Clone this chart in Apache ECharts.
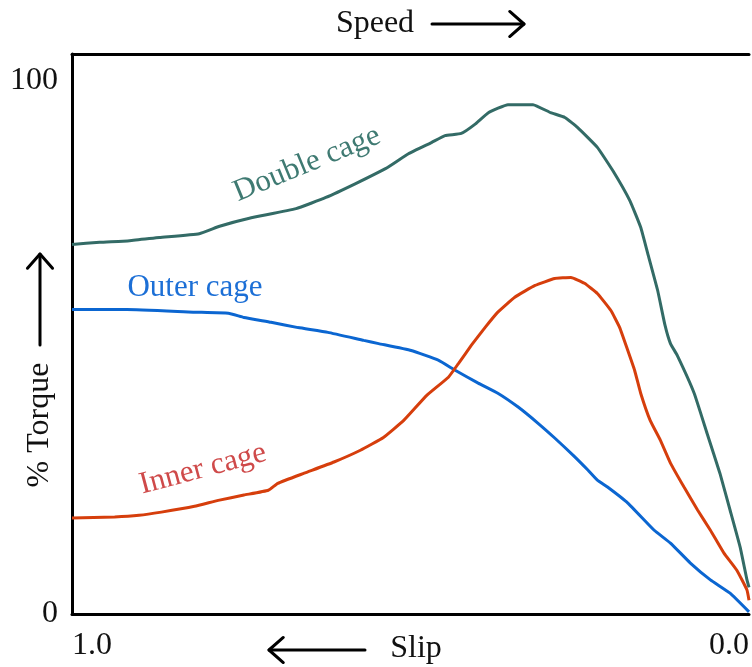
<!DOCTYPE html>
<html>
<head>
<meta charset="utf-8">
<style>
  html, body { margin: 0; padding: 0; background: #fff; }
  #chart { width: 752px; height: 667px; }
</style>
<script src="https://cdn.jsdelivr.net/npm/echarts@6/dist/echarts.min.js"></script>
</head>
<body>
<div id="chart"></div>
<script>
// Torque vs slip for a double-cage induction motor (slip runs 1.0 -> 0.0 left to right)
const seriesNames = ['Double cage', 'Outer cage', 'Inner cage'];
const seriesColors = ['#336b66', '#0b66d1', '#d63e0c'];
const labelColors = ['#3f7a72', '#1c6fd6', '#cf4a4a'];

const xTickLabels = { 1: '1.0', 0: '0.0' };
const yTickLabels = { 0: '0', 100: '100' };

const slipDouble = [1.000, 0.959, 0.915, 0.871, 0.812, 0.782, 0.738, 0.669, 0.625, 0.581, 0.537, 0.503, 0.469, 0.449, 0.425, 0.404, 0.385, 0.356, 0.319, 0.293, 0.272, 0.253, 0.224, 0.201, 0.176, 0.160, 0.150, 0.135, 0.124, 0.116, 0.106, 0.081, 0.062, 0.043, 0.028, 0.013, 0.003, 0.000];
const torqueDouble = [69.3, 69.7, 70.0, 70.6, 71.3, 72.7, 74.2, 76.0, 78.1, 80.7, 83.5, 86.3, 88.4, 89.7, 90.1, 91.9, 94.0, 95.5, 95.5, 94.0, 93.1, 91.2, 87.5, 83.1, 77.5, 72.5, 67.8, 60.7, 54.1, 50.7, 48.5, 41.4, 33.9, 26.4, 19.5, 12.5, 6.4, 5.0];

const slipOuter = [1.000, 0.919, 0.821, 0.769, 0.746, 0.706, 0.666, 0.622, 0.569, 0.547, 0.499, 0.459, 0.434, 0.400, 0.371, 0.341, 0.312, 0.287, 0.260, 0.238, 0.224, 0.209, 0.179, 0.140, 0.116, 0.087, 0.057, 0.028, 0.000];
const torqueOuter = [57.1, 57.1, 56.6, 56.4, 55.6, 54.7, 53.7, 52.8, 51.3, 50.7, 49.4, 47.6, 45.7, 43.3, 41.4, 38.8, 35.8, 33.0, 29.8, 27.0, 25.1, 23.8, 20.8, 15.7, 13.3, 9.6, 6.4, 3.9, 0.4];

const slipInner = [1.000, 0.937, 0.901, 0.868, 0.819, 0.784, 0.746, 0.710, 0.696, 0.657, 0.613, 0.574, 0.540, 0.510, 0.476, 0.444, 0.429, 0.410, 0.390, 0.371, 0.346, 0.316, 0.287, 0.263, 0.243, 0.224, 0.204, 0.191, 0.179, 0.169, 0.160, 0.146, 0.131, 0.116, 0.096, 0.076, 0.057, 0.037, 0.018, 0.003, 0.000];
const torqueInner = [18.0, 18.2, 18.5, 19.1, 20.2, 21.3, 22.3, 23.2, 24.5, 26.4, 28.5, 30.7, 33.1, 36.3, 41.0, 44.4, 47.0, 50.4, 53.7, 56.6, 59.4, 61.6, 62.9, 63.1, 62.0, 60.1, 56.9, 53.7, 49.4, 45.7, 41.4, 36.3, 32.6, 28.3, 23.8, 19.5, 15.7, 11.4, 8.2, 4.5, 2.6];

const pairs = (xs, ys) => xs.map((x, i) => [x, ys[i]]);
const seriesData = [
  pairs(slipDouble, torqueDouble),
  pairs(slipOuter, torqueOuter),
  pairs(slipInner, torqueInner)
];

const FONT = '"Liberation Serif", "Times New Roman", serif';
const chart = echarts.init(document.getElementById('chart'), null, { renderer: 'canvas' });

// simple arrow built from a shaft and a two-stroke head
function arrow(x1, y1, x2, y2, head) {
  const ang = Math.atan2(y2 - y1, x2 - x1);
  const a1 = ang + Math.PI - 0.72, a2 = ang + Math.PI + 0.72;
  const style = { stroke: '#000', lineWidth: 3, fill: null, lineCap: 'round', lineJoin: 'round' };
  return [
    { type: 'line', shape: { x1, y1, x2, y2 }, style },
    { type: 'polyline', shape: { points: [
      [x2 + head * Math.cos(a1), y2 + head * Math.sin(a1)], [x2, y2],
      [x2 + head * Math.cos(a2), y2 + head * Math.sin(a2)]] }, style }
  ];
}

chart.setOption({
  backgroundColor: '#fff',
  animation: false,
  grid: { left: 72, right: 0, top: 54, bottom: 53, containLabel: false },
  xAxis: [{
    type: 'value', min: 0, max: 1, interval: 1, inverse: true,
    axisLine: { show: true, onZero: false, lineStyle: { color: '#000', width: 3 } },
    axisTick: { show: false },
    splitLine: { show: false },
    axisLabel: {
      margin: 16, fontFamily: FONT, fontSize: 32, color: '#111',
      alignMinLabel: 'right', alignMaxLabel: 'left',
      formatter: v => xTickLabels[v] || ''
    }
  }, {
    type: 'value', min: 0, max: 1, position: 'top', inverse: true,
    axisLine: { show: true, onZero: false, lineStyle: { color: '#000', width: 3 } },
    axisTick: { show: false }, axisLabel: { show: false }, splitLine: { show: false }
  }],
  yAxis: {
    type: 'value', min: 0, max: 105, interval: 100, position: 'left',
    axisLine: { show: true, onZero: false, lineStyle: { color: '#000', width: 3 } },
    axisTick: { show: false },
    splitLine: { show: false },
    axisLabel: {
      margin: 14, fontFamily: FONT, fontSize: 32, color: '#111',
      showMaxLabel: false,
      formatter: v => yTickLabels[v] || ''
    }
  },
  series: seriesNames.map((name, i) => ({
    name, type: 'line', data: seriesData[i], showSymbol: false, smooth: 0.12,
    lineStyle: { color: seriesColors[i], width: 3 }, z: 3
  })),
  graphic: [
    { type: 'text', x: 375, y: 24, style: { text: 'Speed', font: '32px ' + FONT, fill: '#111', textAlign: 'center', textVerticalAlign: 'middle' } },
    ...arrow(432, 24, 524, 24, 19),
    { type: 'text', x: 416, y: 649, style: { text: 'Slip', font: '32px ' + FONT, fill: '#111', textAlign: 'center', textVerticalAlign: 'middle' } },
    ...arrow(365, 650, 269, 650, 19),
    { type: 'text', x: 40, y: 425, rotation: Math.PI / 2, style: { text: '% Torque', font: '32px ' + FONT, fill: '#111', textAlign: 'center', textVerticalAlign: 'middle' } },
    ...arrow(40, 345, 40, 254, 19),
    { type: 'text', x: 307, y: 164, rotation: 0.39, style: { text: seriesNames[0], font: '31px ' + FONT, fill: labelColors[0], textAlign: 'center', textVerticalAlign: 'middle' } },
    { type: 'text', x: 195, y: 288, style: { text: seriesNames[1], font: '31px ' + FONT, fill: labelColors[1], textAlign: 'center', textVerticalAlign: 'middle' } },
    { type: 'text', x: 203, y: 469, rotation: 0.26, style: { text: seriesNames[2], font: '31px ' + FONT, fill: labelColors[2], textAlign: 'center', textVerticalAlign: 'middle' } }
  ]
});
</script>
</body>
</html>
